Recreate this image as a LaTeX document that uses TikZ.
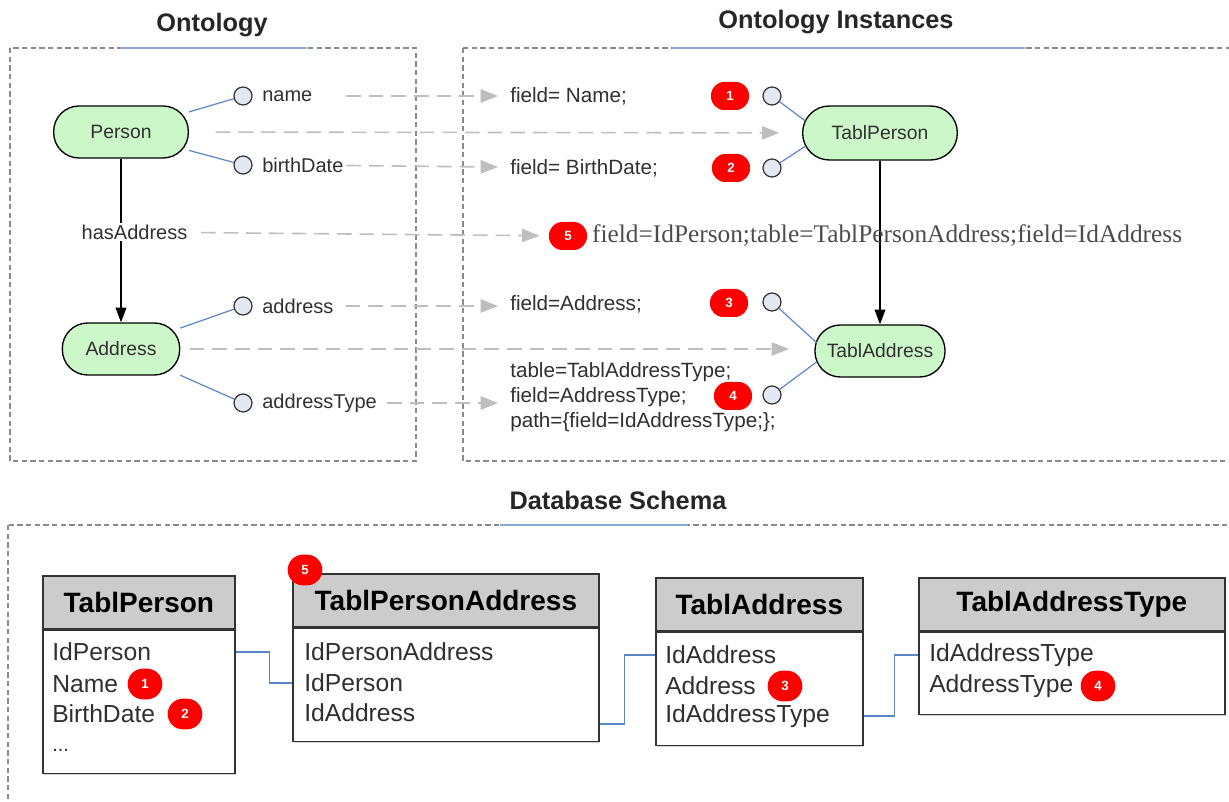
\documentclass[tikz,border=0pt]{standalone}
\usepackage{fontspec}
\setmainfont{Liberation Sans}
\newfontfamily\seriffont{Liberation Serif}
\usetikzlibrary{arrows.meta,positioning,shadows}

\definecolor{pillgreen}{HTML}{CCF7C8}
\definecolor{propfill}{HTML}{E3E8F3}
\definecolor{attrblue}{HTML}{5A86C8}
\definecolor{mapgray}{HTML}{BEBEBE}
\definecolor{framegray}{HTML}{8A8A8A}
\definecolor{headgray}{HTML}{CCCCCC}
\definecolor{textgray}{HTML}{303030}

\tikzset{
  groupbox/.style={draw=framegray, line width=1pt, dash pattern=on 4pt off 2.5pt},
  titleline/.style={draw=attrblue!70, line width=1.3pt},
  grouptitle/.style={font=\fontsize{19}{22}\selectfont\bfseries, text=black!85},
  concept/.style={draw=black, line width=1pt, fill=pillgreen, rounded corners=19pt,
    minimum height=39pt, text=textgray, font=\fontsize{14.5}{17}\selectfont},
  prop/.style={circle, draw=black!80, fill=propfill, minimum size=13.5pt, inner sep=0pt, line width=0.9pt},
  proplabel/.style={anchor=west, inner sep=0pt, text=textgray, font=\fontsize{15}{18}\selectfont},
  fieldtext/.style={anchor=west, inner sep=0pt, text=textgray, font=\fontsize{15.5}{18.75}\selectfont},
  badge/.style={fill=red, rounded corners=10pt, minimum width=28.5pt, minimum height=21pt, inner sep=0pt,
    text=white, font=\fontsize{10}{11}\selectfont\bfseries},
  dbbadge/.style={badge, minimum width=26pt, minimum height=23pt, rounded corners=11.5pt},
  attr/.style={draw=attrblue, line width=0.9pt},
  rel/.style={draw=black, line width=1.2pt, -{Triangle[length=11pt,width=8pt]}},
  map/.style={draw=mapgray, line width=1.2pt, dash pattern=on 11pt off 6pt,
    -{Triangle[length=13pt,width=10pt]}, shorten >=9pt},
  tabhead/.style={draw=black!80, line width=1.3pt, fill=headgray, anchor=north west, minimum height=39.75pt,
    font=\fontsize{21}{24}\selectfont\bfseries, drop shadow={opacity=0.35, shadow xshift=1.2pt, shadow yshift=-1.2pt}},
  tabbody/.style={draw=black!80, line width=1.3pt, fill=white, anchor=north west,
    drop shadow={opacity=0.35, shadow xshift=1.2pt, shadow yshift=-1.2pt}},
  dbfield/.style={anchor=west, inner sep=0pt, text=textgray, font=\fontsize{18.5}{22}\selectfont},
  fk/.style={draw=attrblue, line width=1.1pt}
}

\begin{document}
\begin{tikzpicture}[x=0.75pt,y=-0.75pt]
\useasboundingbox (0,0) rectangle (1229,802);
\clip (0,0) rectangle (1229,802);

% group frames
\draw[groupbox] (10,48) rectangle (416,461);
\draw[groupbox] (463,48) rectangle (1240,461);
\draw[groupbox] (8,525) rectangle (1240,830);
\draw[titleline] (120,48) -- (307,48);
\draw[titleline] (672,48) -- (1025,48);
\draw[titleline] (500,525) -- (688,525);
\node[grouptitle] (t-onto) at (212,25) {Ontology};
\node[grouptitle] (t-inst) at (836,22) {Ontology Instances};
\node[grouptitle] (t-db) at (618,500) {Database Schema};

% ontology
\node[concept, minimum width=101pt] (person) at (121,132) {Person};
\node[concept, minimum width=88pt] (address) at (121,349) {Address};
\node[prop] (c-name) at (243,96) {};
\node[prop] (c-birth) at (243,165) {};
\node[prop] (c-addr) at (243,306) {};
\node[prop] (c-atype) at (243,403) {};
\node[proplabel] (l-name) at (262,96) {name};
\node[proplabel] (l-birth) at (262,165) {birthDate};
\node[proplabel] (l-addr) at (262,306) {address};
\node[proplabel] (l-atype) at (262,403) {addressType};
\draw[attr] (person) -- (c-name);
\draw[attr] (person) -- (c-birth);
\draw[attr] (address) -- (c-addr);
\draw[attr] (address) -- (c-atype);
\draw[rel] (person) -- (address);
\node[fill=white, inner sep=1pt, text=textgray, font=\fontsize{15}{18}\selectfont] (l-has) at (134.5,232) {hasAddress};

% ontology instances
\node[concept, minimum width=116pt, minimum height=40.5pt, rounded corners=20pt] (tablperson) at (880,133) {TablPerson};
\node[concept, minimum width=97.5pt] (tabladdress) at (880,351) {TablAddress};
\draw[rel] (tablperson) -- (tabladdress);
\node[prop] (ic-1) at (772,96) {};
\node[prop] (ic-2) at (772,168) {};
\node[prop] (ic-3) at (772,302) {};
\node[prop] (ic-4) at (772,395) {};
\draw[attr] (ic-1) -- ([xshift=2.5pt,yshift=9pt]tablperson.west);
\draw[attr] (ic-2) -- ([xshift=2.5pt,yshift=-10pt]tablperson.west);
\draw[attr] (ic-3) -- ([xshift=2pt,yshift=6pt]tabladdress.west);
\draw[attr] (ic-4) -- ([xshift=2pt,yshift=-8pt]tabladdress.west);
\node[badge] (b-1) at (730,96) {1};
\node[badge] (b-2) at (731,168) {2};
\node[badge] (b-3) at (729,303) {3};
\node[badge] (b-4) at (733,396) {4};
\node[badge] (b-5) at (568,236) {5};

\node[fieldtext] (f-name) at (510,96) {field= Name;};
\node[fieldtext] (f-birth) at (510,168) {field= BirthDate;};
\node[right=3.5pt of b-5, inner sep=0pt, text=black!70, font=\seriffont\fontsize{19}{22}\selectfont] (f-link)
  {field=IdPerson;table=TablPersonAddress;field=IdAddress};
\node[fieldtext] (f-addr) at (510,304) {field=Address;};
\node[fieldtext, align=left] (f-atype) at (510,397)
  {table=TablAddressType;\\field=AddressType;\\path=\{field=IdAddressType;\};};

% mappings
\draw[map, shorten <=25pt] (l-name) -- (f-name);
\draw[map, shorten <=2pt] (l-birth) -- (f-birth);
\draw[map, shorten <=9pt, shorten >=7pt] (l-has) -- (b-5);
\draw[map, shorten <=9pt] (l-addr) -- (l-addr -| f-addr.west);
\draw[map, shorten <=7.5pt] (l-atype) -- (l-atype -| f-atype.west);
\draw[map, shorten <=20pt, shorten >=17pt] (person) -- (tablperson);
\draw[map, shorten <=7pt, shorten >=19pt] (address) -- (address -| tabladdress.west);

% database schema
\node[tabhead, minimum width=144pt] (tp-h) at (42,575) {TablPerson};
\node[tabbody, minimum width=144pt, minimum height=107.25pt] (tp) at (tp-h.south west) {};
\node[dbfield] (tp-1) at (52,652) {IdPerson};
\node[dbfield] (tp-2) at (52,684) {Name};
\node[dbfield] (tp-3) at (52,714) {BirthDate};
\node[dbfield, font=\fontsize{15}{18}\selectfont] (tp-4) at (52,750) {...};

\node[tabhead, minimum width=229.5pt] (tpa-h) at (292,573) {TablPersonAddress};
\node[tabbody, minimum width=229.5pt, minimum height=84.75pt] (tpa) at (tpa-h.south west) {};
\node[dbfield] (tpa-1) at (304,652) {IdPersonAddress};
\node[dbfield] (tpa-2) at (304,683) {IdPerson};
\node[dbfield] (tpa-3) at (304,713) {IdAddress};

\node[tabhead, minimum width=155.25pt] (ta-h) at (655,577) {TablAddress};
\node[tabbody, minimum width=155.25pt, minimum height=84.75pt] (ta) at (ta-h.south west) {};
\node[dbfield] (ta-1) at (665,655) {IdAddress};
\node[dbfield] (ta-2) at (665,686) {Address};
\node[dbfield] (ta-3) at (665,716) {IdAddressType};

\node[tabhead, minimum width=229.5pt] (tat-h) at (918,577) {TablAddressType};
\node[tabbody, minimum width=229.5pt, minimum height=61.5pt] (tat) at (tat-h.south west) {};
\node[dbfield] (tat-1) at (929,655) {IdAddressType};
\node[dbfield] (tat-2) at (929,686) {AddressType};

\node[dbbadge] (db-1) at (145,684) {1};
\node[dbbadge] (db-2) at (185,714) {2};
\node[dbbadge] (db-5) at (305,570) {5};
\node[dbbadge] (db-3) at (785,686) {3};
\node[dbbadge] (db-4) at (1098,686) {4};

\draw[fk] (tp.east |- tp-1) -- ++(34,0) |- (tpa.west |- tpa-2);
\draw[fk] (tpa.east |- 0,724) -- ++(25,0) |- (ta.west |- ta-1);
\draw[fk] (ta.east |- ta-3) -- ++(31,0) |- (tat.west |- tat-1);
\end{tikzpicture}
\end{document}
